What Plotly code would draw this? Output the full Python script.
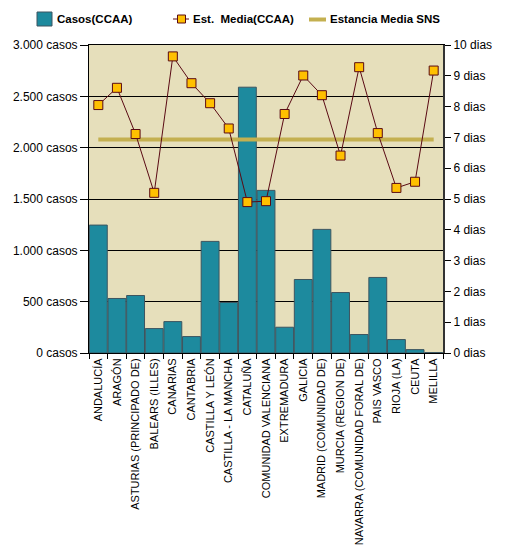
import plotly.graph_objects as go

categorias = ["ANDALUCÍA", "ARAGÓN", "ASTURIAS (PRINCIPADO DE)", "BALEARS (ILLES)", "CANARIAS",
              "CANTABRIA", "CASTILLA Y LEÓN", "CASTILLA - LA MANCHA", "CATALUÑA",
              "COMUNIDAD VALENCIANA", "EXTREMADURA", "GALICIA", "MADRID (COMUNIDAD DE)",
              "MURCIA (REGION DE)", "NAVARRA (COMUNIDAD FORAL DE)", "PAIS VASCO", "RIOJA (LA)",
              "CEUTA", "MELILLA"]
casos = [1246, 531, 560, 238, 306, 160, 1087, 492, 2589, 1584, 251, 716, 1204, 589, 180, 736, 131, 33, 4]
estancia_media = [8.05, 8.61, 7.11, 5.20, 9.63, 8.76, 8.11, 7.29, 4.90, 4.93, 7.76, 9.01, 8.37, 6.41,
                  9.28, 7.14, 5.36, 5.56, 9.17]
estancia_sns = 6.93
leyenda = ["Casos(CCAA)", "Est.\u00a0 Media(CCAA)", "Estancia Media SNS"]

FONT = "Liberation Sans, Arial, sans-serif"
BAR_COLOR = "#1D8A9E"
BAR_LINE = "#3C5560"
LINE_COLOR = "#5A0A14"
MARK_COLOR = "#FFC000"
SNS_COLOR = "#C4B050"

# page body has an 8px margin: figure is laid out 8px smaller, offset by 8px
OFF = 8
W, H = 511 - OFF, 551 - OFF
PLOT_L, PLOT_R, PLOT_T, PLOT_B = 89, 443, 45, 353  # reference pixel coords
L = PLOT_L - OFF
T = PLOT_T - OFF
R = W - (PLOT_R - OFF)
B = H - (PLOT_B - OFF)
PW, PH = PLOT_R - PLOT_L, PLOT_B - PLOT_T


def px(x):
    return (x - PLOT_L) / PW


def py(y):
    return (PLOT_B - y) / PH


fig = go.Figure()
fig.add_trace(go.Bar(
    x=categorias, y=casos, name=leyenda[0],
    marker=dict(color=BAR_COLOR, line=dict(color=BAR_LINE, width=1)),
    yaxis="y", showlegend=False,
))
fig.add_trace(go.Scatter(
    x=[categorias[0], categorias[-1]], y=[estancia_sns, estancia_sns], name=leyenda[2],
    mode="lines", line=dict(color=SNS_COLOR, width=4),
    yaxis="y2", showlegend=False,
))
fig.add_trace(go.Scatter(
    x=categorias, y=estancia_media, name=leyenda[1], mode="lines+markers",
    line=dict(color=LINE_COLOR, width=1),
    marker=dict(symbol="square", size=9, color=MARK_COLOR, line=dict(color=LINE_COLOR, width=1)),
    yaxis="y2", showlegend=False,
))

# manual legend (top)
shapes = [
    dict(type="rect", xref="paper", yref="paper", x0=px(37), x1=px(52), y0=py(26), y1=py(12),
         fillcolor=BAR_COLOR, line=dict(color=BAR_LINE, width=1)),
    dict(type="line", xref="paper", yref="paper", x0=px(173), x1=px(189), y0=py(19), y1=py(19),
         line=dict(color=LINE_COLOR, width=1)),
    dict(type="rect", xref="paper", yref="paper", x0=px(177.5), x1=px(185.5), y0=py(23), y1=py(15),
         fillcolor=MARK_COLOR, line=dict(color=LINE_COLOR, width=1)),
    dict(type="line", xref="paper", yref="paper", x0=px(309), x1=px(326), y0=py(19.5), y1=py(19.5),
         line=dict(color=SNS_COLOR, width=4)),
]
annotations = []
for text, x0 in zip(leyenda, [55, 191, 328]):
    annotations.append(dict(text=text, xref="paper", yref="paper", x=px(x0), y=py(19),
                            xanchor="left", yanchor="middle", showarrow=False,
                            font=dict(family=FONT, size=11.5, color="black", weight="bold")))

fig.update_layout(
    width=W, height=H,
    margin=dict(l=L, r=R, t=T, b=B, autoexpand=False),
    paper_bgcolor="white", plot_bgcolor="#E6DFBB",
    separators=",.",
    font=dict(family=FONT, size=12, color="black"),
    bargap=0.04,
    showlegend=False,
    shapes=shapes,
    annotations=annotations,
    xaxis=dict(type="category", range=[-0.5, len(categorias) - 0.5],
               tickangle=-90, tickfont=dict(size=11, family=FONT),
               showline=True, linecolor="black", linewidth=1, mirror=True,
               ticks="outside", tickson="boundaries", ticklen=5, tickcolor="black",
               showgrid=False, automargin=False),
    yaxis=dict(range=[0, 3000], dtick=500, tickformat=",d", ticksuffix=" casos",
               showline=True, linecolor="black", linewidth=1,
               ticks="outside", ticklen=8, tickcolor="black",
               showgrid=True, gridcolor="black", gridwidth=1, zeroline=False, automargin=False),
    yaxis2=dict(range=[0, 10], dtick=1, ticksuffix=" dias", overlaying="y", side="right",
                showline=True, linecolor="#333333", linewidth=2,
                ticks="outside", ticklen=6, tickcolor="black",
                showgrid=False, zeroline=False, automargin=False),
)

fig.write_html("out.html")
